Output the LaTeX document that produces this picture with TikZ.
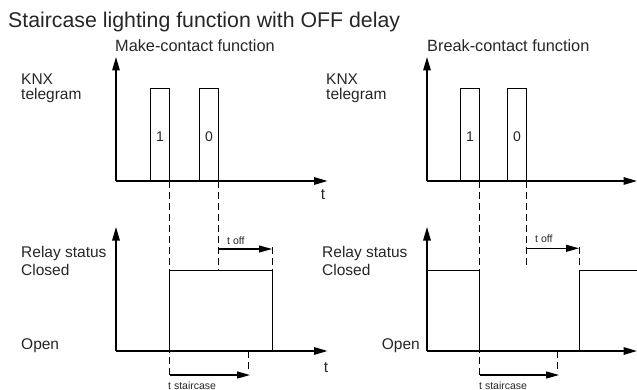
\documentclass[tikz,border=0pt]{standalone}
\usepackage{fontspec}
\setmainfont{Liberation Sans}
\usetikzlibrary{arrows.meta}
\begin{document}
\begin{tikzpicture}[x=1pt,y=-1pt,
  axis/.style={line width=1.5pt,-{Triangle[length=13.5pt,width=7.5pt]}},
  thinline/.style={line width=0.9pt},
  dashline/.style={line width=0.9pt,dash pattern=on 7pt off 4pt},
  dimarrow/.style={line width=1.2pt,-{Triangle[length=13pt,width=7pt]}},
  lbl/.style={inner sep=0pt,font=\fontsize{15.5}{15.5}\selectfont,text=black!85},
  head/.style={inner sep=0pt,font=\fontsize{16.3}{16.3}\selectfont,text=black!85},
  small/.style={inner sep=0pt,font=\fontsize{10.5}{10.5}\selectfont,text=black!85},
  num/.style={inner sep=0pt,font=\fontsize{14}{14}\selectfont,text=black!85}]
\useasboundingbox (0,0) rectangle (637,390);
% Title
\node[inner sep=0pt,anchor=base west,font=\fontsize{21.3}{21.3}\selectfont,text=black!85] (title) at (8,28) {Staircase lighting function with OFF delay};

% ===== Left panel (make-contact) =====
\node[head,anchor=base west] (mk) at (115,52) {Make-contact function};
\node[lbl,anchor=base west] (knxA) at (21,85) {KNX};
\node[lbl,anchor=base west] (telA) at (21,100) {telegram};
\node[lbl,anchor=base west] (relA) at (21,257) {Relay status};
\node[lbl,anchor=base west] (cloA) at (21,275) {Closed};
\node[lbl,anchor=base west] (opA) at (21,349) {Open};

\coordinate (oA) at (116,181);
\coordinate (yA) at (116,57);
\coordinate (xA) at (327.5,181);
\draw[axis] (oA) -- (yA);
\draw[axis] (oA) -- (xA);
\node[lbl,anchor=base] (tA) at (323,200) {t};

\coordinate (oA2) at (116,351);
\coordinate (yA2) at (116,227);
\coordinate (xA2) at (327.5,351);
\draw[axis] (oA2) -- (yA2);
\draw[axis] (oA2) -- (xA2);
\node[lbl,anchor=base] (tA2) at (326,372) {t};

% pulses
\draw[thinline] (150,181) -- (150,88.5) -- (169.5,88.5) -- (169.5,181);
\draw[thinline] (199,181) -- (199,88.5) -- (218.5,88.5) -- (218.5,181);
\node[num,anchor=base] (oneA) at (160,142) {1};
\node[num,anchor=base] (zeroA) at (209,142) {0};

% dashed
\coordinate (dA1t) at (169.5,181);
\coordinate (dA1b) at (169.5,375);
\draw[dashline] (dA1t) -- (dA1b);
\coordinate (dA2t) at (218.5,181);
\coordinate (dA2b) at (218.5,270.3);
\draw[dashline] (dA2t) -- (dA2b);

% relay
\draw[thinline] (169.5,351) -- (169.5,270.3) -- (272,270.3) -- (272,351);

% t off
\coordinate (toffA1) at (218.5,249);
\coordinate (toffA2) at (272,249);
\draw[dimarrow] (toffA1) -- (toffA2);
\draw[dashline] (272,247) -- (272,270.3);
\node[small,anchor=base west] (toffA) at (227,244) {t off};

% t staircase
\coordinate (tsA1) at (169.5,375);
\coordinate (tsA2) at (250,375);
\draw[dimarrow] (tsA1) -- (tsA2);
\draw[dashline] (248,351) -- (248,372);
\node[small,anchor=base west] (tsA) at (168,389) {t staircase};

% ===== Right panel (break-contact) =====
\node[head,anchor=base west] (bk) at (427,52) {Break-contact function};
\node[lbl,anchor=base west] (knxB) at (326,85) {KNX};
\node[lbl,anchor=base west] (telB) at (326,100) {telegram};
\node[lbl,anchor=base west] (relB) at (322,257) {Relay status};
\node[lbl,anchor=base west] (cloB) at (322,275) {Closed};
\node[lbl,anchor=base east] (opB) at (420,349) {Open};

\coordinate (oB) at (427,181);
\coordinate (yB) at (427,57);
\coordinate (xB) at (637,181);
\draw[axis] (oB) -- (yB);
\draw[axis] (oB) -- (xB);

\coordinate (oB2) at (427,351);
\coordinate (yB2) at (427,227);
\coordinate (xB2) at (637,351);
\draw[axis] (oB2) -- (yB2);
\draw[axis] (oB2) -- (xB2);

% pulses
\draw[thinline] (460.3,181) -- (460.3,88.5) -- (479.7,88.5) -- (479.7,181);
\draw[thinline] (507,181) -- (507,88.5) -- (526.7,88.5) -- (526.7,181);
\node[num,anchor=base] (oneB) at (470,142) {1};
\node[num,anchor=base] (zeroB) at (517,142) {0};

% dashed
\coordinate (dB1t) at (479.7,181);
\coordinate (dB1b) at (479.7,375);
\draw[dashline] (dB1t) -- (dB1b);
\coordinate (dB2t) at (526.7,181);
\coordinate (dB2b) at (526.7,265);
\draw[dashline] (dB2t) -- (dB2b);

% relay
\draw[thinline] (427,270.3) -- (479.7,270.3) -- (479.7,351);
\draw[thinline] (579.7,351) -- (579.7,270.3) -- (637,270.3);

% t off
\coordinate (toffB1) at (526.7,248.3);
\coordinate (toffB2) at (579,248.3);
\draw[dimarrow] (toffB1) -- (toffB2);
\draw[dashline] (579.7,247) -- (579.7,268);
\node[small,anchor=base west] (toffB) at (535,243) {t off};

% t staircase
\coordinate (tsB1) at (479.7,375);
\coordinate (tsB2) at (559,375);
\draw[dimarrow] (tsB1) -- (tsB2);
\draw[dashline] (557.7,351) -- (557.7,372);
\node[small,anchor=base west] (tsB) at (479,389) {t staircase};
\end{tikzpicture}
\end{document}
